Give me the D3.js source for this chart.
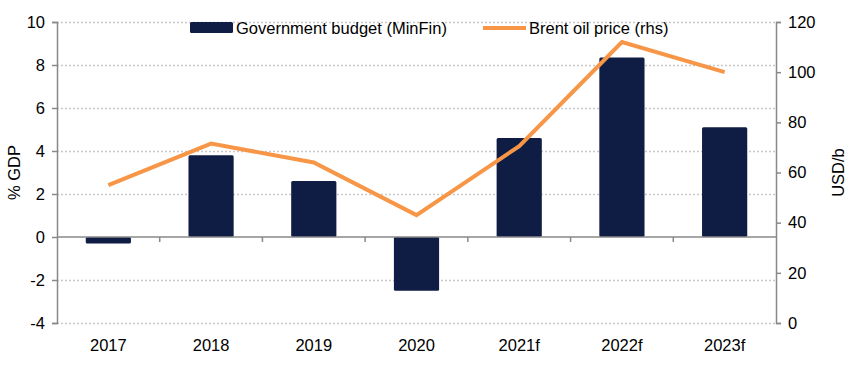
<!DOCTYPE html>
<html>
<head>
<meta charset="utf-8">
<script src="https://cdn.jsdelivr.net/npm/d3@7"></script>
<style>
  body { margin: 0; background: #fff; }
  svg { font-family: "Liberation Sans", Arial, sans-serif; }
</style>
</head>
<body>
<div id="chart"></div>
<script>
// chart data
const years = ["2017", "2018", "2019", "2020", "2021f", "2022f", "2023f"];
const budget = [-0.3, 3.8, 2.6, -2.5, 4.6, 8.35, 5.1];
const brent = [55, 71.5, 64, 43, 70.5, 112, 100];
const leftTicks = [-4, -2, 0, 2, 4, 6, 8, 10];
const rightTicks = [0, 20, 40, 60, 80, 100, 120];

const width = 855, height = 375;
const margin = { top: 22, right: 79, bottom: 52, left: 57 };
const innerW = width - margin.left - margin.right;
const innerH = height - margin.top - margin.bottom;

const navy = "#0f1c44", orange = "#f79646", axisGrey = "#898989";
const fontSize = 16.5;

const svg = d3.select("#chart")
  .append("svg")
  .attr("width", width)
  .attr("height", height);

const g = svg.append("g")
  .attr("transform", `translate(${margin.left},${margin.top})`);

const x = d3.scaleBand()
  .domain(years)
  .range([0, innerW])
  .paddingInner(0.56)
  .paddingOuter(0.28);

const y = d3.scaleLinear().domain([-4, 10]).range([innerH, 0]);
const y2 = d3.scaleLinear().domain([0, 120]).range([innerH, 0]);

// dotted gridlines
g.append("g")
  .selectAll("line")
  .data(leftTicks.filter(d => d !== 0))
  .enter()
  .append("line")
  .attr("x1", 0)
  .attr("x2", innerW)
  .attr("y1", d => y(d) + 0.5)
  .attr("y2", d => y(d) + 0.5)
  .attr("stroke", "#c8c8c8")
  .attr("stroke-width", 1.3)
  .attr("stroke-dasharray", "2,2");

// bars
g.selectAll(".bar")
  .data(budget)
  .enter()
  .append("rect")
  .attr("class", "bar")
  .attr("x", (d, i) => x(years[i]))
  .attr("y", d => y(Math.max(0, d)))
  .attr("width", x.bandwidth())
  .attr("height", d => Math.abs(y(d) - y(0)))
  .attr("rx", 1.5)
  .attr("fill", navy);

// zero line with category ticks
g.append("line")
  .attr("x1", 0).attr("x2", innerW)
  .attr("y1", y(0)).attr("y2", y(0))
  .attr("stroke", axisGrey)
  .attr("stroke-width", 1.5);

const step = innerW / years.length;
g.append("g")
  .selectAll("line")
  .data(years.slice(1))
  .enter()
  .append("line")
  .attr("x1", (d, i) => step * (i + 1))
  .attr("x2", (d, i) => step * (i + 1))
  .attr("y1", y(0))
  .attr("y2", y(0) + 5)
  .attr("stroke", axisGrey)
  .attr("stroke-width", 1.5);

// category labels
g.append("g")
  .selectAll("text")
  .data(years)
  .enter()
  .append("text")
  .attr("x", d => x(d) + x.bandwidth() / 2)
  .attr("y", innerH + 28)
  .attr("text-anchor", "middle")
  .attr("font-size", fontSize)
  .attr("fill", "#000")
  .text(d => d);

// oil price line
g.append("path")
  .datum(brent)
  .attr("fill", "none")
  .attr("stroke", orange)
  .attr("stroke-width", 4)
  .attr("stroke-linejoin", "miter")
  .attr("d", d3.line()
    .x((d, i) => x(years[i]) + x.bandwidth() / 2)
    .y(d => y2(d)));

// left axis (plain hyphen for negatives, as in the original)
const leftAxis = g.append("g")
  .call(d3.axisLeft(y).tickValues(leftTicks).tickSize(5).tickPadding(7)
    .tickFormat(d => String(d)));
leftAxis.select(".domain").attr("stroke", axisGrey).attr("stroke-width", 1.5);
leftAxis.selectAll(".tick line").attr("stroke", axisGrey).attr("stroke-width", 1.5);
leftAxis.selectAll(".tick text")
  .attr("font-size", fontSize)
  .attr("font-family", "Liberation Sans, Arial, sans-serif")
  .attr("fill", "#000");

// right axis
const rightAxis = g.append("g")
  .attr("transform", `translate(${innerW},0)`)
  .call(d3.axisRight(y2).tickValues(rightTicks).tickSize(5).tickPadding(7)
    .tickFormat(d => String(d)));
rightAxis.select(".domain").attr("stroke", axisGrey).attr("stroke-width", 1.5);
rightAxis.selectAll(".tick line").attr("stroke", axisGrey).attr("stroke-width", 1.5);
rightAxis.selectAll(".tick text")
  .attr("font-size", fontSize)
  .attr("font-family", "Liberation Sans, Arial, sans-serif")
  .attr("fill", "#000");

// axis titles
svg.append("text")
  .attr("transform", `translate(20,${margin.top + y(3)}) rotate(-90)`)
  .attr("text-anchor", "middle")
  .attr("font-size", fontSize)
  .attr("fill", "#000")
  .text("% GDP");

svg.append("text")
  .attr("transform", `translate(844,${margin.top + y2(60)}) rotate(-90)`)
  .attr("text-anchor", "middle")
  .attr("font-size", fontSize)
  .attr("fill", "#000")
  .text("USD/b");

// legend
const legend = svg.append("g");
legend.append("rect")
  .attr("x", 190).attr("y", 22)
  .attr("width", 43).attr("height", 11)
  .attr("rx", 1.5)
  .attr("fill", navy);
legend.append("text")
  .attr("x", 236).attr("y", 33.5)
  .attr("font-size", fontSize)
  .attr("fill", "#000")
  .text("Government budget (MinFin)");
legend.append("line")
  .attr("x1", 483).attr("x2", 526)
  .attr("y1", 28).attr("y2", 28)
  .attr("stroke", orange)
  .attr("stroke-width", 4);
legend.append("text")
  .attr("x", 529).attr("y", 33.5)
  .attr("font-size", fontSize)
  .attr("fill", "#000")
  .text("Brent oil price (rhs)");
</script>
</body>
</html>
